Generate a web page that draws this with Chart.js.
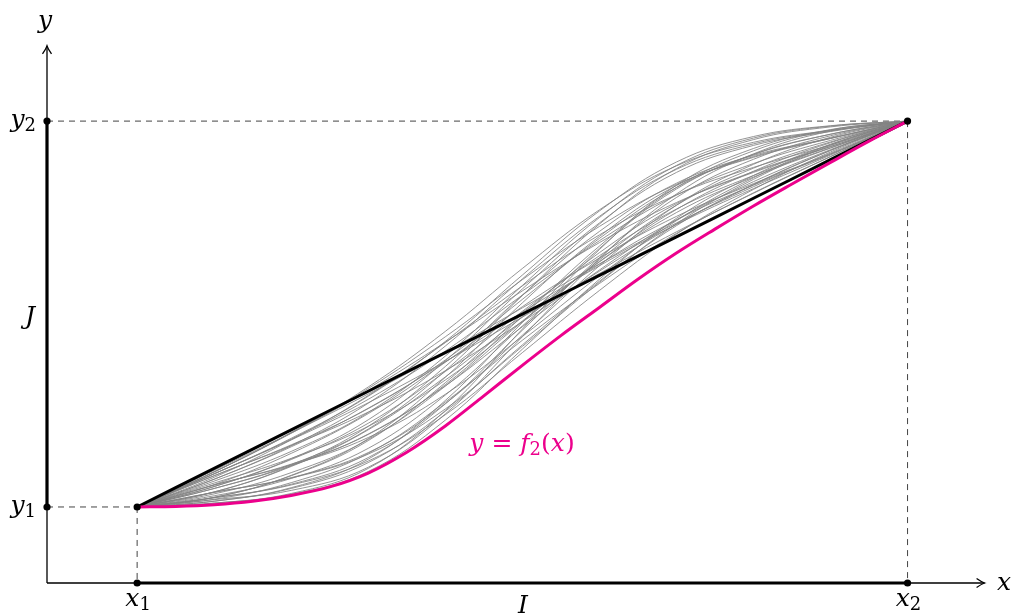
<!DOCTYPE html>
<html>
<head>
<meta charset="utf-8">
<script src="https://cdn.jsdelivr.net/npm/chart.js@4.4.1/dist/chart.umd.min.js"></script>
<style>
  body { margin: 0; background: #fff; }
  #wrap { width: 1016px; height: 614px; }
</style>
</head>
<body>
<div id="wrap"><canvas id="myChart" width="1016" height="614"></canvas></div>
<script>
// x runs 0 (x1) -> 1 (x2), y runs 0 (y1) -> 1 (y2)
var gridX = [0, 0.1, 0.2, 0.3, 0.4, 0.5, 0.6, 0.7, 0.8, 0.9, 1];
var fineX = [0, 0.05, 0.1, 0.15, 0.2, 0.25, 0.3, 0.35, 0.4, 0.45, 0.5, 0.55, 0.6, 0.65, 0.7, 0.75, 0.8, 0.85, 0.9, 0.95, 1];

// y = f2(x), the magenta curve
var magentaY = [0, 0.0015, 0.006, 0.015, 0.03, 0.052, 0.088, 0.142, 0.21, 0.288, 0.367, 0.444, 0.517, 0.59, 0.658, 0.72, 0.78, 0.837, 0.893, 0.948, 1];

// the black curve (nearly straight)
var blackY = [0, 0.1, 0.2, 0.3, 0.4, 0.5, 0.6, 0.7, 0.8, 0.9, 1];

// the thin gray family, read on gridX
var grayCurves = [
  [0, .086, .174, .270, .377, .492, .605, .713, .813, .908, 1],
  [0, .081, .159, .246, .353, .480, .611, .733, .835, .924, 1],
  [0, .086, .176, .279, .404, .549, .690, .808, .890, .950, 1],
  [0, .081, .161, .255, .381, .538, .696, .828, .913, .966, 1],
  [0, .086, .178, .287, .429, .601, .767, .894, .960, .988, 1],
  [0, .091, .192, .307, .441, .589, .727, .836, .906, .955, 1],
  [0, .091, .191, .302, .427, .560, .685, .789, .867, .934, 1],
  [0, .072, .156, .256, .376, .505, .625, .732, .825, .912, 1],
  [0, .077, .174, .289, .426, .573, .705, .809, .880, .938, 1],
  [0, .062, .126, .209, .329, .482, .636, .771, .870, .944, 1],
  [0, .072, .159, .269, .417, .591, .753, .875, .941, .975, 1],
  [0, .057, .111, .188, .317, .494, .676, .828, .923, .977, 1],
  [0, .057, .109, .180, .292, .442, .599, .742, .853, .939, 1],
  [0, .058, .139, .242, .375, .519, .645, .753, .838, .915, 1],
  [0, .048, .107, .189, .314, .467, .614, .744, .843, .926, 1],
  [0, .038, .075, .137, .254, .416, .582, .734, .849, .937, 1],
  [0, .053, .125, .226, .379, .565, .736, .867, .937, .973, 1],
  [0, .048, .110, .202, .353, .548, .733, .877, .952, .985, 1],
  [0, .053, .123, .217, .351, .507, .651, .772, .859, .931, 1],
  [0, .039, .105, .200, .337, .492, .629, .744, .834, .914, 1],
  [0, .034, .089, .175, .313, .480, .635, .763, .855, .930, 1],
  [0, .029, .074, .152, .290, .469, .640, .782, .878, .946, 1],
  [0, .024, .059, .128, .267, .458, .646, .802, .901, .962, 1],
  [0, .019, .043, .103, .241, .441, .643, .811, .915, .974, 1],
  [0, .039, .107, .209, .364, .549, .714, .839, .911, .956, 1],
  [0, .020, .063, .139, .272, .432, .579, .709, .814, .908, 1],
  [0, .025, .081, .172, .322, .500, .659, .786, .869, .934, 1],
  [0, .010, .033, .092, .225, .409, .590, .748, .859, .940, 1],
  [0, .015, .050, .124, .276, .478, .670, .824, .914, .966, 1],
  [0, .010, .035, .100, .250, .461, .667, .834, .929, .978, 1],
  [0, .015, .048, .115, .248, .420, .585, .729, .836, .924, 1],
  [0, .091, .193, .311, .455, .618, .770, .884, .945, .976, 1],
  [0, .067, .144, .245, .391, .574, .750, .885, .956, .987, 1],
  [0, .038, .076, .141, .268, .445, .625, .782, .888, .958, 1],
  [0, .024, .057, .119, .239, .400, .561, .707, .823, .920, 1],
  [0, .025, .082, .177, .336, .529, .701, .833, .908, .955, 1],
  [0, .095, .192, .293, .401, .516, .630, .736, .830, .917, 1]
];

var MAGENTA = '#ec008c';
var SERIF = "'DejaVu Serif', 'Liberation Serif', serif";

function toPoints(xs, ys) {
  return xs.map(function (x, i) { return { x: x, y: ys[i] }; });
}

var datasets = [];
datasets.push({
  data: toPoints(fineX, magentaY),
  borderColor: MAGENTA,
  borderWidth: 3,
  cubicInterpolationMode: 'monotone'
});
datasets.push({
  data: toPoints(gridX, blackY),
  borderColor: '#000',
  borderWidth: 3
});
grayCurves.forEach(function (ys) {
  datasets.push({
    data: toPoints(gridX, ys),
    borderColor: 'rgba(130,130,130,0.95)',
    borderWidth: 0.9
  });
});

// draw "pieces" of math text: [text, kind] with kind i = italic, r = upright, s = subscript
function drawMath(ctx, parts, x, y, align, color, size) {
  var sub = Math.round(size * 0.7);
  function fontFor(kind) {
    if (kind === 'i') return 'italic ' + size + 'px ' + SERIF;
    if (kind === 's') return sub + 'px ' + SERIF;
    return size + 'px ' + SERIF;
  }
  var total = 0;
  parts.forEach(function (p) { ctx.font = fontFor(p[1]); total += ctx.measureText(p[0]).width; });
  var cx = x;
  if (align === 'center') cx = x - total / 2;
  if (align === 'right') cx = x - total;
  ctx.fillStyle = color;
  ctx.textAlign = 'left';
  ctx.textBaseline = 'alphabetic';
  parts.forEach(function (p) {
    ctx.font = fontFor(p[1]);
    ctx.fillText(p[0], cx, p[1] === 's' ? y + size * 0.15 : y);
    cx += ctx.measureText(p[0]).width;
  });
}

var decor = {
  id: 'decor',
  beforeDatasetsDraw: function (chart) {
    var ctx = chart.ctx, xs = chart.scales.x, ys = chart.scales.y;
    var X = function (v) { return xs.getPixelForValue(v); };
    var Y = function (v) { return ys.getPixelForValue(v); };
    var ox = X(xs.min), oy = Y(ys.min);
    ctx.save();
    // dashed guides
    ctx.strokeStyle = '#444';
    ctx.lineWidth = 1;
    ctx.setLineDash([6, 5]);
    ctx.beginPath();
    ctx.moveTo(ox, Y(1)); ctx.lineTo(X(1), Y(1));
    ctx.moveTo(X(1), Y(1)); ctx.lineTo(X(1), oy);
    ctx.moveTo(ox, Y(0)); ctx.lineTo(X(0), Y(0));
    ctx.moveTo(X(0), Y(0)); ctx.lineTo(X(0), oy);
    ctx.stroke();
    ctx.setLineDash([]);
    // thin axes
    ctx.strokeStyle = '#000';
    ctx.lineWidth = 1.3;
    ctx.beginPath();
    ctx.moveTo(ox, oy); ctx.lineTo(X(1.1), oy);
    ctx.moveTo(ox, oy); ctx.lineTo(ox, Y(1.195));
    ctx.stroke();
    // arrow heads
    var tx = X(1.1), ty = Y(1.195);
    ctx.beginPath();
    ctx.moveTo(tx - 8, oy - 4.5); ctx.quadraticCurveTo(tx - 3, oy - 1, tx, oy);
    ctx.quadraticCurveTo(tx - 3, oy + 1, tx - 8, oy + 4.5);
    ctx.moveTo(ox - 4.5, ty + 8); ctx.quadraticCurveTo(ox - 1, ty + 3, ox, ty);
    ctx.quadraticCurveTo(ox + 1, ty + 3, ox + 4.5, ty + 8);
    ctx.stroke();
    // thick intervals I and J
    ctx.lineWidth = 3.2;
    ctx.beginPath();
    ctx.moveTo(X(0), oy); ctx.lineTo(X(1), oy);
    ctx.moveTo(ox, Y(0)); ctx.lineTo(ox, Y(1));
    ctx.stroke();
    ctx.restore();
  },
  afterDatasetsDraw: function (chart) {
    var ctx = chart.ctx, xs = chart.scales.x, ys = chart.scales.y;
    var X = function (v) { return xs.getPixelForValue(v); };
    var Y = function (v) { return ys.getPixelForValue(v); };
    var ox = X(xs.min), oy = Y(ys.min);
    ctx.save();
    // dots
    ctx.fillStyle = '#000';
    [[ox, Y(0)], [ox, Y(1)], [X(0), oy], [X(1), oy], [X(0), Y(0)], [X(1), Y(1)]].forEach(function (p) {
      ctx.beginPath();
      ctx.arc(p[0], p[1], 3.6, 0, Math.PI * 2);
      ctx.fill();
    });
    var fs = 25;
    drawMath(ctx, [['y', 'i']], 45, 28, 'center', '#000', fs);
    drawMath(ctx, [['x', 'i']], 1004, 590, 'center', '#000', fs);
    drawMath(ctx, [['y', 'i'], ['2', 's']], 36, Y(1) + 6, 'right', '#000', fs);
    drawMath(ctx, [['y', 'i'], ['1', 's']], 36, Y(0) + 6, 'right', '#000', fs);
    drawMath(ctx, [['x', 'i'], ['1', 's']], X(0) + 1, 606, 'center', '#000', fs);
    drawMath(ctx, [['x', 'i'], ['2', 's']], X(1) + 1, 606, 'center', '#000', fs);
    drawMath(ctx, [['J', 'i']], 30, 324, 'center', '#000', fs);
    drawMath(ctx, [['I', 'i']], 523, 613, 'center', '#000', fs);
    drawMath(ctx, [['y', 'i'], [' = ', 'r'], ['f', 'i'], ['2', 's'], ['(', 'r'], ['x', 'i'], [')', 'r']],
      522, 451, 'center', MAGENTA, fs);
    ctx.restore();
  }
};

new Chart(document.getElementById('myChart'), {
  type: 'line',
  data: { datasets: datasets },
  options: {
    responsive: false,
    animation: false,
    devicePixelRatio: 1,
    layout: { padding: { left: 47, right: 16, top: 20, bottom: 31 } },
    elements: {
      point: { radius: 0 },
      line: { tension: 0.4, fill: false }
    },
    scales: {
      x: { type: 'linear', min: -0.117, max: 1.12, display: false },
      y: { type: 'linear', min: -0.197, max: 1.262, display: false }
    },
    plugins: {
      legend: { display: false },
      tooltip: { enabled: false },
      title: { display: false }
    }
  },
  plugins: [decor]
});
</script>
</body>
</html>
